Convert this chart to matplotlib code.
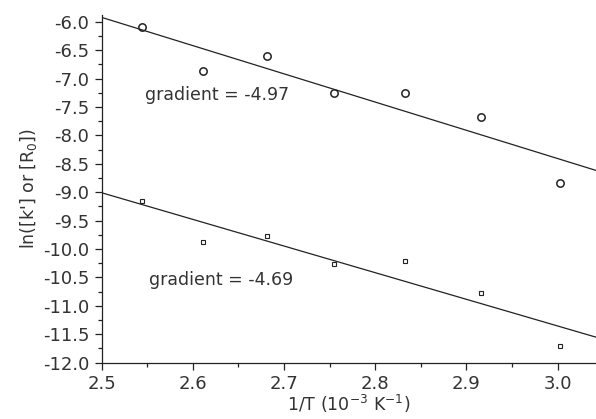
import numpy as np
import matplotlib
matplotlib.use("Agg")
import matplotlib.pyplot as plt
from matplotlib.ticker import MultipleLocator

# Data
inv_T = [2.544, 2.611, 2.681, 2.755, 2.833, 2.916, 3.0025]
ln_k = [-6.09, -6.86, -6.60, -7.26, -7.255, -7.68, -8.83]
ln_R0 = [-9.16, -9.87, -9.77, -10.26, -10.21, -10.78, -11.71]

# fitted lines: value at x=2.5 and gradient
k_start, k_grad = -5.922, -4.97
R_start, R_grad = -9.009, -4.69

fig = plt.figure(figsize=(5.96, 4.19), dpi=100)
ax = fig.add_axes([0.1706, 0.1344, 0.8294, 0.8298])

# Scatter the data
ax.plot(inv_T, ln_k, linestyle="none", marker="o", markersize=5.3,
        markerfacecolor="none", markeredgecolor="#222222", markeredgewidth=1.1, zorder=3)
ax.plot(inv_T, ln_R0, linestyle="none", marker="s", markersize=2.6,
        markerfacecolor="none", markeredgecolor="#222222", markeredgewidth=0.8, zorder=3)

# Fit lines over the full x range
xmin, xmax = 2.5, 3.042
xs = np.array([xmin, xmax])
ax.plot(xs, k_start + k_grad * (xs - xmin), color="#222222", linewidth=0.9)
ax.plot(xs, R_start + R_grad * (xs - xmin), color="#222222", linewidth=0.9)

ax.text(2.5475, -7.29, "gradient = {:.2f}".format(k_grad), fontsize=12.5,
        va="center", ha="left", color="#333333")
ax.text(2.552, -10.545, "gradient = {:.2f}".format(R_grad), fontsize=12.5,
        va="center", ha="left", color="#333333")

ax.set_xlim(xmin, xmax)
ax.set_ylim(-12.0, -5.88)

ax.xaxis.set_major_locator(MultipleLocator(0.1))
ax.xaxis.set_minor_locator(MultipleLocator(0.05))
ax.yaxis.set_major_locator(MultipleLocator(0.5))
ax.yaxis.set_minor_locator(MultipleLocator(0.25))
ax.xaxis.set_major_formatter(matplotlib.ticker.FormatStrFormatter("%.1f"))
ax.yaxis.set_major_formatter(matplotlib.ticker.FormatStrFormatter("%.1f"))

for side in ["top", "right"]:
    ax.spines[side].set_visible(False)
for side in ["left", "bottom"]:
    ax.spines[side].set_linewidth(0.9)
    ax.spines[side].set_color("#222222")

ax.tick_params(which="major", direction="out", length=5, width=0.9,
               labelsize=13, colors="#222222", labelcolor="#333333", pad=4)
ax.tick_params(which="minor", direction="out", length=3, width=0.9, colors="#222222")

ax.set_xlabel(r"1/T (10$^{-3}$ K$^{-1}$)", fontsize=12.5, color="#333333", labelpad=0)
ax.set_ylabel(r"ln([k'] or [R$_0$])", fontsize=12.5, color="#333333", labelpad=3)

fig.savefig("out.png", dpi=100)
